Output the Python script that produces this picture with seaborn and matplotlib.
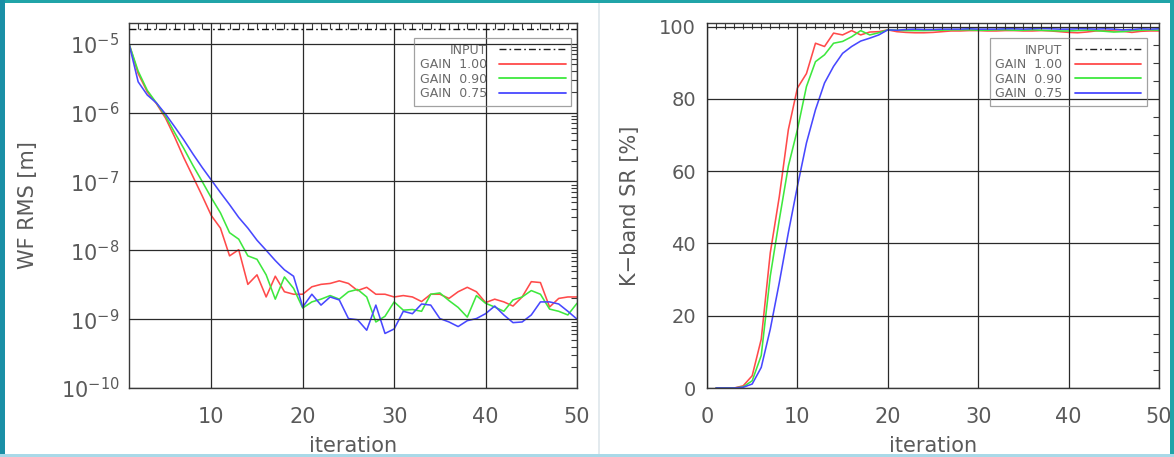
import numpy as np
import pandas as pd
import matplotlib
matplotlib.use("Agg")
import matplotlib.pyplot as plt
from matplotlib.lines import Line2D
from matplotlib.patches import Rectangle
from matplotlib.ticker import MultipleLocator, LogLocator, NullFormatter, FixedLocator
import seaborn as sns

# ---------------------------------------------------------------- data
iterations = list(range(1, 51))
gain_labels = ["GAIN 1.00", "GAIN 0.90", "GAIN 0.75"]
gain_colors = ["#ff4a4a", "#3ee83e", "#4848ff"]

# residual wavefront RMS [m] per iteration
wf_gain_100 = [1.0e-5, 3.7e-6, 2.0e-6, 1.35e-6, 8.3e-7, 4.4e-7, 2.2e-7, 1.17e-7, 6.2e-8, 3.2e-8,
               2.1e-8, 8.3e-9, 1.02e-8, 3.2e-9, 4.4e-9, 2.1e-9, 4.2e-9, 2.5e-9, 2.3e-9, 2.3e-9,
               2.95e-9, 3.2e-9, 3.3e-9, 3.6e-9, 3.3e-9, 2.6e-9, 2.9e-9, 2.3e-9, 2.3e-9, 2.1e-9,
               2.2e-9, 2.1e-9, 1.8e-9, 2.3e-9, 2.3e-9, 2.0e-9, 2.5e-9, 2.9e-9, 2.5e-9, 1.74e-9,
               1.95e-9, 1.78e-9, 1.55e-9, 2.1e-9, 3.5e-9, 3.4e-9, 1.5e-9, 2.0e-9, 2.1e-9, 2.1e-9]
wf_gain_090 = [1.0e-5, 4.0e-6, 2.1e-6, 1.38e-6, 8.9e-7, 5.1e-7, 3.0e-7, 1.7e-7, 1.0e-7, 5.8e-8,
               3.5e-8, 1.8e-8, 1.45e-8, 8.3e-9, 7.4e-9, 4.4e-9, 1.95e-9, 4.1e-9, 2.8e-9, 1.45e-9,
               1.78e-9, 1.95e-9, 2.2e-9, 1.95e-9, 2.5e-9, 2.7e-9, 2.1e-9, 9.1e-10, 1.1e-9, 1.78e-9,
               1.35e-9, 1.38e-9, 1.3e-9, 2.3e-9, 2.4e-9, 1.86e-9, 1.48e-9, 1.07e-9, 2.2e-9, 1.7e-9,
               1.5e-9, 1.3e-9, 1.9e-9, 2.1e-9, 2.6e-9, 2.3e-9, 1.4e-9, 1.3e-9, 1.15e-9, 1.7e-9]
wf_gain_075 = [1.0e-5, 2.8e-6, 1.8e-6, 1.38e-6, 9.5e-7, 6.2e-7, 4.0e-7, 2.5e-7, 1.6e-7, 1.05e-7,
               6.9e-8, 4.6e-8, 3.0e-8, 2.1e-8, 1.4e-8, 1.0e-8, 7.1e-9, 5.2e-9, 4.2e-9, 1.5e-9,
               2.3e-9, 1.6e-9, 2.1e-9, 1.9e-9, 1.02e-9, 9.8e-10, 6.9e-10, 1.6e-9, 6.2e-10, 7.2e-10,
               1.3e-9, 1.2e-9, 1.66e-9, 1.6e-9, 1.02e-9, 9.1e-10, 7.8e-10, 9.5e-10, 1.02e-9, 1.2e-9,
               1.55e-9, 1.15e-9, 8.9e-10, 9.1e-10, 1.15e-9, 1.78e-9, 1.78e-9, 1.66e-9, 1.3e-9, 1.0e-9]
wf_input = 1.65e-5

# K-band Strehl ratio [%] per iteration
sr_gain_100 = [0.0, 0.0, 0.0, 0.6, 3.4, 13.5, 37.4, 53.0, 71.5, 83.0,
               87.0, 95.4, 94.5, 98.2, 97.7, 98.9, 97.7, 98.5, 98.6, 99.1,
               98.6, 98.4, 98.3, 98.3, 98.4, 98.6, 98.8, 98.8, 98.9, 98.9,
               98.8, 98.8, 98.9, 98.9, 98.8, 98.8, 98.9, 98.8, 98.6, 98.4,
               98.3, 98.5, 98.8, 98.9, 98.8, 98.7, 98.4, 98.7, 98.8, 98.8]
sr_gain_090 = [0.0, 0.0, 0.0, 0.3, 2.0, 9.0, 31.0, 46.6, 61.4, 71.5,
               83.4, 90.3, 92.2, 95.4, 95.9, 97.2, 98.9, 97.7, 98.3, 99.1,
               99.0, 98.9, 98.9, 98.9, 99.0, 99.0, 99.1, 99.1, 99.1, 99.0,
               99.0, 99.1, 99.1, 99.0, 99.0, 99.1, 99.0, 98.9, 98.8, 98.8,
               98.9, 99.0, 98.9, 98.7, 98.5, 98.6, 98.9, 99.0, 99.1, 99.0]
sr_gain_075 = [0.0, 0.0, 0.0, 0.2, 1.1, 5.7, 16.3, 29.2, 43.0, 55.8,
               67.8, 77.0, 84.4, 89.0, 92.6, 94.5, 96.0, 96.8, 97.7, 99.1,
               99.0, 99.2, 99.3, 99.2, 99.2, 99.3, 99.3, 99.3, 99.4, 99.3,
               99.3, 99.3, 99.4, 99.4, 99.3, 99.4, 99.5, 99.4, 99.3, 99.3,
               99.4, 99.4, 99.3, 99.4, 99.3, 99.1, 99.2, 99.4, 99.3, 99.4]

wf_series = [wf_gain_100, wf_gain_090, wf_gain_075]
sr_series = [sr_gain_100, sr_gain_090, sr_gain_075]

wf_df = pd.DataFrame({
    "iteration": iterations * 3,
    "value": sum(wf_series, []),
    "gain": sum([[g] * len(iterations) for g in gain_labels], []),
})
sr_df = pd.DataFrame({
    "iteration": iterations * 3,
    "value": sum(sr_series, []),
    "gain": sum([[g] * len(iterations) for g in gain_labels], []),
})

# ---------------------------------------------------------------- style
sns.set_style("white")
plt.rcParams["font.family"] = ["DejaVu Sans"]
plt.rcParams["mathtext.fontset"] = "dejavusans"

TEXT = "#5a5a5a"
FRAME = "#3a3a3a"
GRID = "#2a2a2a"
palette = dict(zip(gain_labels, gain_colors))

W, H = 1174, 457
fig = plt.figure(figsize=(W / 100, H / 100), dpi=100)
fig.patch.set_facecolor("white")

def px_axes(x0, y0, x1, y1):
    return fig.add_axes([x0 / W, 1 - y1 / H, (x1 - x0) / W, (y1 - y0) / H])

ax_wf = px_axes(129, 23, 577, 388)
ax_sr = px_axes(707, 23, 1159, 388)

input_dash = (0, (5, 2.2, 1.2, 2.2))

# ---- left panel: WF RMS
sns.lineplot(data=wf_df, x="iteration", y="value", hue="gain", palette=palette,
             hue_order=gain_labels, linewidth=1.15, legend=False, ax=ax_wf)
ax_wf.plot([iterations[0], iterations[-1]], [wf_input, wf_input], color="#111111",
           linewidth=1.0, linestyle=input_dash, zorder=3)
ax_wf.set_yscale("log")
ax_wf.set_xlim(1, 50)
ax_wf.set_ylim(1e-10, 2e-5)
ax_wf.yaxis.set_major_locator(FixedLocator([1e-10, 1e-9, 1e-8, 1e-7, 1e-6, 1e-5]))
ax_wf.yaxis.set_minor_locator(LogLocator(base=10, subs=np.arange(2, 10), numticks=20))
ax_wf.yaxis.set_minor_formatter(NullFormatter())
ax_wf.set_ylabel("WF RMS [m]", fontsize=15, color=TEXT, labelpad=16)

# ---- right panel: K-band Strehl
sns.lineplot(data=sr_df, x="iteration", y="value", hue="gain", palette=palette,
             hue_order=gain_labels, linewidth=1.15, legend=False, ax=ax_sr)
ax_sr.set_xlim(0, 50)
ax_sr.set_ylim(0, 101)
ax_sr.yaxis.set_major_locator(MultipleLocator(20))
ax_sr.yaxis.set_minor_locator(MultipleLocator(5))
ax_sr.set_ylabel("K\u2212band SR [%]", fontsize=15, color=TEXT, labelpad=14)

for ax in (ax_wf, ax_sr):
    ax.xaxis.set_major_locator(MultipleLocator(10))
    ax.xaxis.set_minor_locator(MultipleLocator(1))
    ax.set_xlabel("iteration", fontsize=15, color=TEXT, labelpad=6)
    ax.grid(True, which="major", color=GRID, linewidth=0.9)
    ax.set_axisbelow(False)
    ax.tick_params(which="both", direction="in", top=True, right=True,
                   colors=FRAME, labelcolor=TEXT, labelsize=15)
    ax.tick_params(which="major", length=0)
    ax.tick_params(axis="x", which="major", pad=14)
    ax.tick_params(axis="y", which="major", pad=7)
    ax.tick_params(which="minor", length=4.5, width=0.8)
    for s in ax.spines.values():
        s.set_color(FRAME)
        s.set_linewidth(1.0)
        s.set_visible(True)

ax_sr.tick_params(axis="y", which="major", labelsize=14, pad=8)

# ---- legends (labels right-aligned against the line samples)
def add_legend(ax, anchor):
    handles = [Line2D([], [], color="#222222", linewidth=1.0, linestyle=input_dash)]
    handles += [Line2D([], [], color=c, linewidth=1.3) for c in gain_colors]
    labels = ["INPUT"] + [g.replace(" ", "  ") for g in gain_labels]
    leg = ax.legend(handles, labels, loc="upper right", bbox_to_anchor=anchor,
                    markerfirst=False, fancybox=False, frameon=True, fontsize=9,
                    labelcolor="#6a6a6a", handlelength=5.3, handletextpad=1.0,
                    labelspacing=0.12, borderpad=0.45, borderaxespad=0.0)
    frame = leg.get_frame()
    frame.set_facecolor("none")
    frame.set_edgecolor("#8a8a8a")
    frame.set_linewidth(0.9)
    return leg

add_legend(ax_wf, (0.987, 0.959))
add_legend(ax_sr, (0.973, 0.959))

# ---- page frame
teal = "#20a4a8"
fig.patches.append(Rectangle((0, 1 - 3 / H), 1, 3 / H, transform=fig.transFigure,
                             facecolor=teal, edgecolor="none", zorder=10))
fig.patches.append(Rectangle((0, 0), 5 / W, 1, transform=fig.transFigure,
                             facecolor="#1a8fa6", edgecolor="none", zorder=10))
fig.patches.append(Rectangle((1 - 4 / W, 0), 4 / W, 1, transform=fig.transFigure,
                             facecolor=teal, edgecolor="none", zorder=10))
fig.patches.append(Rectangle((0, 0), 1, 3 / H, transform=fig.transFigure,
                             facecolor="#a9d9e8", edgecolor="none", zorder=10))
fig.patches.append(Rectangle((598 / W, 3 / H), 2 / W, 1 - 6 / H, transform=fig.transFigure,
                             facecolor="#e3eaee", edgecolor="none", zorder=10))

fig.savefig("out.png", dpi=100)
